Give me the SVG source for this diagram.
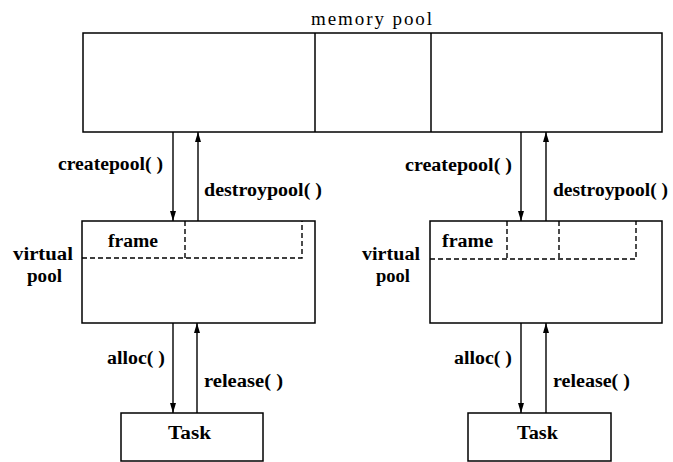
<svg xmlns="http://www.w3.org/2000/svg" width="673" height="462" viewBox="0 0 673 462">
  <style>
    .box { fill: none; stroke: #000; stroke-width: 1.5; }
    .dash { fill: none; stroke: #000; stroke-width: 1.4; stroke-dasharray: 5 3; }
    .conn { fill: none; stroke: #000; stroke-width: 1.4; }
    .lbl { font-family: "Liberation Serif", "Times New Roman", serif; font-weight: bold; font-size: 18px; fill: #000; }
    .title { font-family: "Liberation Serif", "Times New Roman", serif; font-size: 19px; fill: #000; }
  </style>
  <defs>
    <marker id="head" viewBox="0 0 10 6" refX="10" refY="3" markerWidth="10" markerHeight="6" markerUnits="userSpaceOnUse" orient="auto">
      <path d="M0,0 L10,3 L0,6 Z" fill="#000"/>
    </marker>
  </defs>
  <rect width="673" height="462" fill="#fff"/>

  <!-- shared memory pool, split into three regions -->
  <g id="memory-pool">
    <text class="title" x="311" y="25" textLength="121" lengthAdjust="spacing">memory pool</text>
    <rect class="box" x="83" y="33" width="579" height="99"/>
    <line class="box" x1="315" y1="33" x2="315" y2="132"/>
    <line class="box" x1="431" y1="33" x2="431" y2="132"/>
  </g>

  <!-- left virtual pool with two frames -->
  <g id="virtual-pool-left">
    <rect class="box" x="82" y="221" width="233" height="102"/>
    <path class="dash" d="M82,258 H302 V221 M185,221 V258"/>
    <text class="lbl" x="108" y="247" textLength="50" lengthAdjust="spacingAndGlyphs">frame</text>
    <text class="lbl" x="13" y="260" textLength="60" lengthAdjust="spacingAndGlyphs">virtual</text>
    <text class="lbl" x="27" y="282" textLength="35" lengthAdjust="spacingAndGlyphs">pool</text>
  </g>

  <!-- right virtual pool with three frames -->
  <g id="virtual-pool-right">
    <rect class="box" x="430" y="221" width="232" height="102"/>
    <path class="dash" d="M430,259 H636 V221 M507,221 V259 M559,221 V259"/>
    <text class="lbl" x="442" y="247" textLength="51" lengthAdjust="spacingAndGlyphs">frame</text>
    <text class="lbl" x="362" y="260" textLength="58" lengthAdjust="spacingAndGlyphs">virtual</text>
    <text class="lbl" x="376" y="282" textLength="34" lengthAdjust="spacingAndGlyphs">pool</text>
  </g>

  <g id="task-left">
    <rect class="box" x="121" y="413" width="142" height="48"/>
    <text class="lbl" x="168" y="439" textLength="43" lengthAdjust="spacingAndGlyphs">Task</text>
  </g>

  <g id="task-right">
    <rect class="box" x="468" y="413" width="143" height="48"/>
    <text class="lbl" x="517" y="439" textLength="41" lengthAdjust="spacingAndGlyphs">Task</text>
  </g>

  <!-- calls between layers -->
  <g id="connectors">
    <line class="conn" x1="173" y1="132" x2="173" y2="221" marker-end="url(#head)"/>
    <line class="conn" x1="198" y1="221" x2="198" y2="132" marker-end="url(#head)"/>
    <line class="conn" x1="173" y1="323" x2="173" y2="413" marker-end="url(#head)"/>
    <line class="conn" x1="197" y1="413" x2="197" y2="323" marker-end="url(#head)"/>
    <line class="conn" x1="521" y1="132" x2="521" y2="221" marker-end="url(#head)"/>
    <line class="conn" x1="546" y1="221" x2="546" y2="132" marker-end="url(#head)"/>
    <line class="conn" x1="521" y1="323" x2="521" y2="413" marker-end="url(#head)"/>
    <line class="conn" x1="546" y1="413" x2="546" y2="323" marker-end="url(#head)"/>

    <text class="lbl" x="58" y="170" textLength="105" lengthAdjust="spacingAndGlyphs">createpool( )</text>
    <text class="lbl" x="204" y="196" textLength="118" lengthAdjust="spacingAndGlyphs">destroypool( )</text>
    <text class="lbl" x="107" y="364" textLength="58" lengthAdjust="spacingAndGlyphs">alloc( )</text>
    <text class="lbl" x="204" y="387" textLength="79" lengthAdjust="spacingAndGlyphs">release( )</text>

    <text class="lbl" x="405" y="171" textLength="107" lengthAdjust="spacingAndGlyphs">createpool( )</text>
    <text class="lbl" x="553" y="196" textLength="115" lengthAdjust="spacingAndGlyphs">destroypool( )</text>
    <text class="lbl" x="454" y="364" textLength="58" lengthAdjust="spacingAndGlyphs">alloc( )</text>
    <text class="lbl" x="553" y="387" textLength="77" lengthAdjust="spacingAndGlyphs">release( )</text>
  </g>
</svg>
